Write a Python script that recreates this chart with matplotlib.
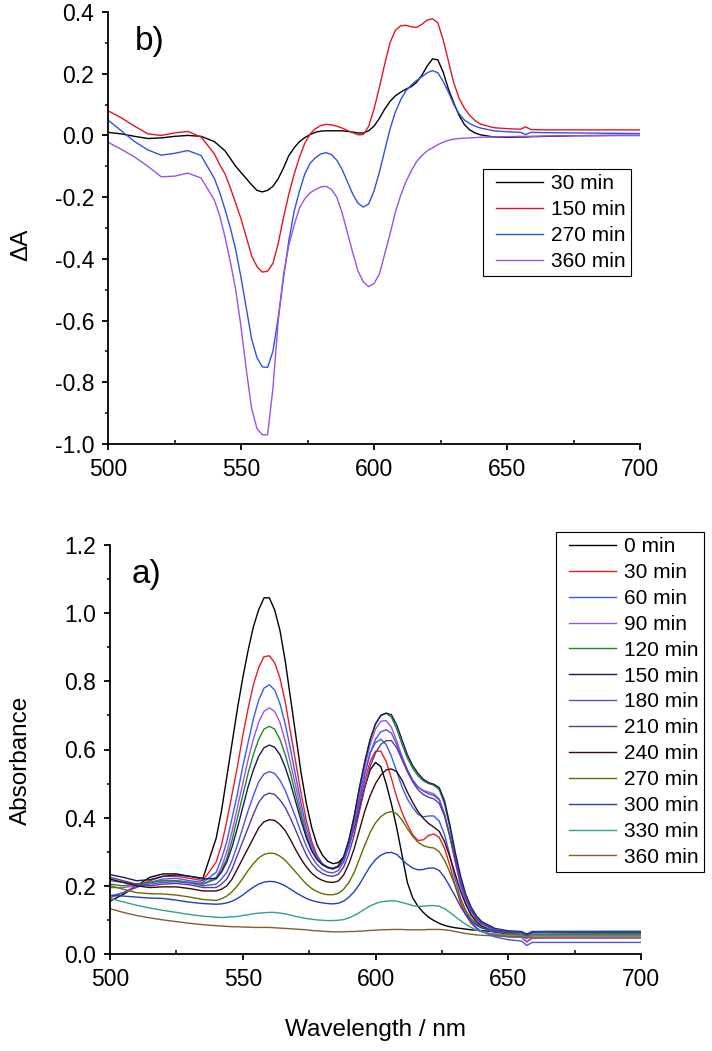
import numpy as np
import matplotlib
matplotlib.use("Agg")
import matplotlib.pyplot as plt
from matplotlib.lines import Line2D
from matplotlib.legend_handler import HandlerLine2D
from matplotlib.ticker import MultipleLocator, FormatStrFormatter

plt.rcParams['font.family'] = ['Liberation Sans', 'DejaVu Sans']
plt.rcParams['axes.unicode_minus'] = False

# wavelength grid (nm) the values below were read at
wavelength = ([500, 505, 510, 515, 520, 525, 530, 535]
              + list(range(540, 641, 2))
              + [645, 650, 655, 657, 659, 665, 675, 690, 700])

# panel b) difference spectra
dA_labels = ['30 min', '150 min', '270 min', '360 min']
dA_colors = ['#000000', '#e8141e', '#2f52e6', '#9a50ec']
dA_30 = [0.010, 0.005, -0.003, -0.010, -0.008, -0.003, 0.000, -0.003,
         -0.020, -0.035, -0.050, -0.075, -0.100, -0.120, -0.140, -0.160, -0.178, -0.183,
         -0.178, -0.165, -0.140, -0.105, -0.065, -0.040, -0.020, -0.007, 0.003, 0.010,
         0.014, 0.015, 0.015, 0.015, 0.015, 0.013, 0.011, 0.008, 0.008, 0.015,
         0.030, 0.055, 0.085, 0.110, 0.128, 0.140, 0.150, 0.158, 0.172, 0.195,
         0.225, 0.248, 0.245, 0.205, 0.150, 0.105, 0.065, 0.035, 0.018, 0.008, 0.002,
         -0.005, -0.006, -0.005, -0.005, -0.004, -0.003, -0.001, 0.000, 0.000]
dA_150 = [0.080, 0.057, 0.030, 0.005, 0.000, 0.008, 0.013, -0.005,
          -0.060, -0.095, -0.125, -0.170, -0.220, -0.270, -0.330, -0.390, -0.425, -0.443,
          -0.440, -0.415, -0.350, -0.265, -0.190, -0.125, -0.070, -0.025, 0.005, 0.022,
          0.032, 0.036, 0.034, 0.030, 0.024, 0.016, 0.009, 0.002, 0.003, 0.030,
          0.085, 0.155, 0.230, 0.300, 0.340, 0.355, 0.357, 0.352, 0.350, 0.360,
          0.374, 0.378, 0.365, 0.310, 0.240, 0.170, 0.120, 0.088, 0.065, 0.048, 0.037,
          0.025, 0.022, 0.020, 0.028, 0.019, 0.018, 0.018, 0.018, 0.018]
dA_270 = [0.050, 0.015, -0.020, -0.047, -0.064, -0.058, -0.049, -0.065,
          -0.140, -0.185, -0.240, -0.300, -0.370, -0.460, -0.560, -0.660, -0.720, -0.750,
          -0.752, -0.700, -0.590, -0.460, -0.340, -0.245, -0.180, -0.125, -0.090, -0.072,
          -0.060, -0.056, -0.062, -0.080, -0.110, -0.150, -0.190, -0.220, -0.232, -0.222,
          -0.180, -0.120, -0.050, 0.020, 0.075, 0.115, 0.145, 0.163, 0.178, 0.190,
          0.203, 0.210, 0.203, 0.175, 0.140, 0.100, 0.070, 0.050, 0.038, 0.030, 0.024,
          0.015, 0.012, 0.010, 0.003, 0.010, 0.009, 0.008, 0.007, 0.006]
dA_360 = [-0.022, -0.045, -0.070, -0.100, -0.134, -0.132, -0.122, -0.138,
          -0.210, -0.260, -0.330, -0.410, -0.500, -0.620, -0.760, -0.885, -0.950, -0.970,
          -0.970, -0.820, -0.600, -0.450, -0.355, -0.290, -0.235, -0.205, -0.186, -0.175,
          -0.167, -0.165, -0.175, -0.200, -0.250, -0.315, -0.380, -0.440, -0.475, -0.490,
          -0.480, -0.450, -0.385, -0.320, -0.250, -0.195, -0.150, -0.115, -0.085, -0.065,
          -0.050, -0.040, -0.030, -0.022, -0.016, -0.012, -0.010, -0.009, -0.008, -0.007, -0.006,
          -0.005, -0.004, -0.003, -0.003, -0.003, -0.002, -0.001, 0.000, 0.000]

# panel a) absorbance spectra
abs_labels = ['0 min', '30 min', '60 min', '90 min', '120 min', '150 min', '180 min',
              '210 min', '240 min', '270 min', '300 min', '330 min', '360 min']
abs_colors = ['#000000', '#ec1c24', '#3a5cf0', '#a050f0', '#1f8a1f', '#1a1a60', '#5050e8',
              '#5a3a9a', '#3a0a0a', '#6a6a00', '#2040c0', '#30a090', '#8a5a30']
a_0 = [0.155, 0.175, 0.200, 0.225, 0.235, 0.235, 0.228, 0.222,
       0.340, 0.420, 0.520, 0.620, 0.720, 0.810, 0.890, 0.960, 1.010, 1.045,
       1.045, 1.010, 0.950, 0.860, 0.750, 0.640, 0.530, 0.440, 0.370, 0.320,
       0.290, 0.272, 0.265, 0.268, 0.285, 0.320, 0.370, 0.430, 0.490, 0.540,
       0.562, 0.550, 0.500, 0.440, 0.370, 0.290, 0.210, 0.165, 0.140, 0.122,
       0.108, 0.098, 0.090, 0.084, 0.080, 0.077, 0.075, 0.073, 0.071, 0.070, 0.068,
       0.066, 0.065, 0.064, 0.058, 0.063, 0.063, 0.062, 0.062, 0.062]
a_30 = [0.165, 0.180, 0.200, 0.215, 0.228, 0.228, 0.222, 0.215,
        0.270, 0.320, 0.390, 0.470, 0.550, 0.640, 0.720, 0.790, 0.840, 0.872,
        0.875, 0.855, 0.810, 0.740, 0.650, 0.560, 0.470, 0.390, 0.330, 0.290,
        0.265, 0.253, 0.250, 0.255, 0.275, 0.315, 0.370, 0.440, 0.510, 0.565,
        0.595, 0.595, 0.565, 0.515, 0.460, 0.415, 0.380, 0.350, 0.333, 0.335,
        0.348, 0.352, 0.342, 0.310, 0.260, 0.200, 0.150, 0.115, 0.090, 0.075, 0.066,
        0.055, 0.050, 0.049, 0.035, 0.046, 0.047, 0.047, 0.047, 0.047]
a_60 = [0.170, 0.180, 0.195, 0.210, 0.220, 0.222, 0.215, 0.210,
        0.240, 0.280, 0.330, 0.400, 0.470, 0.550, 0.620, 0.690, 0.745, 0.780,
        0.790, 0.775, 0.735, 0.675, 0.600, 0.520, 0.440, 0.370, 0.320, 0.285,
        0.265, 0.255, 0.252, 0.258, 0.280, 0.325, 0.385, 0.460, 0.530, 0.590,
        0.620, 0.630, 0.615, 0.580, 0.535, 0.490, 0.455, 0.430, 0.410, 0.402,
        0.405, 0.405, 0.390, 0.350, 0.290, 0.220, 0.165, 0.125, 0.095, 0.078, 0.066,
        0.050, 0.042, 0.038, 0.025, 0.034, 0.034, 0.034, 0.034, 0.034]
a_90 = [0.195, 0.195, 0.200, 0.210, 0.215, 0.215, 0.210, 0.205,
        0.225, 0.255, 0.300, 0.360, 0.430, 0.500, 0.570, 0.630, 0.680, 0.712,
        0.722, 0.712, 0.680, 0.625, 0.560, 0.490, 0.420, 0.355, 0.310, 0.280,
        0.262, 0.253, 0.250, 0.257, 0.280, 0.330, 0.395, 0.475, 0.550, 0.615,
        0.660, 0.683, 0.685, 0.665, 0.625, 0.580, 0.540, 0.510, 0.490, 0.480,
        0.475, 0.470, 0.455, 0.410, 0.345, 0.270, 0.200, 0.150, 0.115, 0.093, 0.080,
        0.060, 0.052, 0.049, 0.037, 0.047, 0.048, 0.048, 0.048, 0.048]
a_120 = [0.205, 0.200, 0.205, 0.210, 0.215, 0.215, 0.210, 0.205,
         0.220, 0.245, 0.280, 0.335, 0.400, 0.465, 0.530, 0.585, 0.630, 0.660,
         0.668, 0.660, 0.630, 0.585, 0.530, 0.465, 0.405, 0.345, 0.305, 0.278,
         0.262, 0.254, 0.250, 0.258, 0.285, 0.335, 0.405, 0.490, 0.565, 0.630,
         0.675, 0.700, 0.706, 0.695, 0.660, 0.615, 0.575, 0.545, 0.523, 0.508,
         0.500, 0.495, 0.482, 0.440, 0.370, 0.290, 0.220, 0.165, 0.130, 0.105, 0.090,
         0.070, 0.062, 0.058, 0.048, 0.057, 0.058, 0.058, 0.058, 0.058]
a_150 = [0.233, 0.225, 0.215, 0.218, 0.228, 0.232, 0.228, 0.220,
         0.222, 0.240, 0.270, 0.315, 0.370, 0.430, 0.490, 0.540, 0.580, 0.605,
         0.613, 0.607, 0.585, 0.548, 0.500, 0.445, 0.390, 0.340, 0.302, 0.277,
         0.262, 0.254, 0.250, 0.258, 0.285, 0.335, 0.405, 0.490, 0.565, 0.630,
         0.675, 0.700, 0.707, 0.702, 0.672, 0.628, 0.585, 0.553, 0.530, 0.513,
         0.503, 0.498, 0.488, 0.450, 0.380, 0.300, 0.230, 0.175, 0.138, 0.112, 0.095,
         0.075, 0.068, 0.066, 0.058, 0.066, 0.066, 0.066, 0.066, 0.066]
a_180 = [0.215, 0.210, 0.205, 0.205, 0.210, 0.212, 0.208, 0.200,
         0.205, 0.220, 0.240, 0.275, 0.320, 0.370, 0.420, 0.465, 0.505, 0.528,
         0.535, 0.530, 0.510, 0.480, 0.440, 0.400, 0.355, 0.315, 0.285, 0.262,
         0.248, 0.240, 0.238, 0.245, 0.270, 0.315, 0.380, 0.455, 0.530, 0.590,
         0.630, 0.652, 0.658, 0.648, 0.615, 0.575, 0.540, 0.510, 0.490, 0.478,
         0.470, 0.465, 0.452, 0.410, 0.345, 0.275, 0.210, 0.160, 0.125, 0.102, 0.088,
         0.070, 0.064, 0.062, 0.053, 0.062, 0.064, 0.065, 0.066, 0.066]
a_210 = [0.225, 0.215, 0.205, 0.200, 0.205, 0.207, 0.203, 0.195,
         0.195, 0.205, 0.220, 0.250, 0.290, 0.330, 0.370, 0.410, 0.445, 0.465,
         0.472, 0.468, 0.452, 0.430, 0.398, 0.362, 0.325, 0.290, 0.265, 0.247,
         0.236, 0.230, 0.228, 0.234, 0.255, 0.295, 0.350, 0.420, 0.490, 0.550,
         0.590, 0.615, 0.626, 0.626, 0.605, 0.570, 0.535, 0.505, 0.482, 0.468,
         0.460, 0.455, 0.442, 0.405, 0.345, 0.280, 0.215, 0.165, 0.130, 0.105, 0.090,
         0.072, 0.066, 0.064, 0.055, 0.064, 0.065, 0.065, 0.065, 0.065]
a_240 = [0.220, 0.210, 0.200, 0.195, 0.197, 0.197, 0.192, 0.185,
         0.185, 0.190, 0.200, 0.220, 0.250, 0.280, 0.310, 0.340, 0.370, 0.388,
         0.394, 0.392, 0.380, 0.362, 0.335, 0.305, 0.278, 0.255, 0.237, 0.224,
         0.216, 0.211, 0.210, 0.214, 0.232, 0.265, 0.310, 0.365, 0.420, 0.465,
         0.500, 0.525, 0.540, 0.543, 0.535, 0.510, 0.475, 0.445, 0.418, 0.398,
         0.383, 0.372, 0.360, 0.330, 0.285, 0.235, 0.185, 0.145, 0.115, 0.095, 0.082,
         0.065, 0.058, 0.056, 0.047, 0.055, 0.055, 0.055, 0.055, 0.055]
a_270 = [0.200, 0.190, 0.180, 0.177, 0.176, 0.173, 0.167, 0.160,
         0.157, 0.162, 0.170, 0.183, 0.200, 0.222, 0.245, 0.265, 0.282, 0.292,
         0.296, 0.295, 0.287, 0.275, 0.258, 0.240, 0.222, 0.205, 0.192, 0.183,
         0.177, 0.174, 0.174, 0.178, 0.190, 0.210, 0.240, 0.280, 0.320, 0.357,
         0.385, 0.403, 0.414, 0.418, 0.412, 0.393, 0.368, 0.345, 0.328, 0.318,
         0.313, 0.311, 0.300, 0.275, 0.240, 0.200, 0.160, 0.128, 0.104, 0.088, 0.078,
         0.065, 0.060, 0.058, 0.050, 0.058, 0.058, 0.058, 0.058, 0.058]
a_300 = [0.172, 0.170, 0.167, 0.164, 0.163, 0.158, 0.152, 0.148,
         0.146, 0.147, 0.150, 0.155, 0.163, 0.173, 0.185, 0.196, 0.205, 0.211,
         0.213, 0.212, 0.207, 0.200, 0.190, 0.180, 0.171, 0.163, 0.157, 0.153,
         0.150, 0.148, 0.147, 0.149, 0.155, 0.167, 0.183, 0.205, 0.232, 0.257,
         0.277, 0.290, 0.297, 0.298, 0.292, 0.277, 0.263, 0.252, 0.247, 0.248,
         0.252, 0.252, 0.245, 0.225, 0.198, 0.170, 0.140, 0.115, 0.097, 0.085, 0.076,
         0.066, 0.064, 0.064, 0.056, 0.065, 0.066, 0.066, 0.066, 0.066]
a_330 = [0.163, 0.153, 0.143, 0.135, 0.128, 0.122, 0.116, 0.111,
         0.108, 0.107, 0.108, 0.109, 0.110, 0.113, 0.115, 0.118, 0.120, 0.121,
         0.122, 0.122, 0.120, 0.118, 0.114, 0.110, 0.107, 0.104, 0.102, 0.100,
         0.099, 0.098, 0.098, 0.099, 0.101, 0.106, 0.113, 0.122, 0.132, 0.141,
         0.148, 0.153, 0.155, 0.156, 0.155, 0.151, 0.147, 0.142, 0.140, 0.140,
         0.142, 0.142, 0.140, 0.133, 0.122, 0.110, 0.098, 0.087, 0.078, 0.070, 0.065,
         0.058, 0.056, 0.055, 0.048, 0.055, 0.055, 0.055, 0.055, 0.055]
a_360 = [0.133, 0.122, 0.113, 0.106, 0.100, 0.095, 0.090, 0.086,
         0.083, 0.082, 0.081, 0.080, 0.080, 0.079, 0.079, 0.078, 0.078, 0.078,
         0.078, 0.077, 0.076, 0.075, 0.074, 0.073, 0.072, 0.071, 0.069, 0.068,
         0.067, 0.066, 0.065, 0.065, 0.065, 0.066, 0.066, 0.067, 0.068, 0.069,
         0.070, 0.071, 0.071, 0.072, 0.072, 0.072, 0.071, 0.071, 0.071, 0.071,
         0.072, 0.072, 0.072, 0.071, 0.069, 0.066, 0.063, 0.060, 0.058, 0.056, 0.055,
         0.053, 0.052, 0.051, 0.046, 0.050, 0.050, 0.050, 0.050, 0.050]

dA_series = [dA_30, dA_150, dA_270, dA_360]
abs_series = [a_0, a_30, a_60, a_90, a_120, a_150, a_180, a_210, a_240, a_270, a_300, a_330, a_360]


def style_axes(ax):
    for s in ['top', 'right']:
        ax.spines[s].set_visible(False)
    for s in ['left', 'bottom']:
        ax.spines[s].set_linewidth(1.3)
    ax.set_xlim(500, 700)
    ax.xaxis.set_major_locator(MultipleLocator(50))
    ax.xaxis.set_minor_locator(MultipleLocator(25))
    ax.yaxis.set_major_locator(MultipleLocator(0.2))
    ax.yaxis.set_minor_locator(MultipleLocator(0.1))
    ax.yaxis.set_major_formatter(FormatStrFormatter('%.1f'))
    ax.tick_params(which='major', direction='out', length=4, width=1.3, labelsize=16.5, pad=6)
    ax.tick_params(axis='y', which='minor', direction='out', length=2.5, width=1.1)
    ax.tick_params(axis='x', which='minor', direction='in', length=3, width=1.1)


def add_legend(ax, x_px, y_px):
    # extra blank space in front of each legend line, as in the original
    leg = ax.legend(loc='upper left', bbox_to_anchor=(x_px / 712, 1 - y_px / 1051),
                    bbox_transform=fig.transFigure, borderaxespad=0, fontsize=15,
                    frameon=True, fancybox=False, edgecolor='black', framealpha=1,
                    handlelength=2.65, handletextpad=0.35, labelspacing=0.33, borderpad=0.25,
                    handler_map={Line2D: HandlerLine2D(xpad=0.35)})
    leg.get_frame().set_linewidth(0.8)


fig = plt.figure(figsize=(7.12, 10.51), dpi=100)

# --- panel b) ---
ax_b = fig.add_axes([108 / 712, 1 - 444 / 1051, 532 / 712, 432 / 1051])
for y, lab, c in zip(dA_series, dA_labels, dA_colors):
    ax_b.plot(wavelength, y, color=c, lw=1.0, label=lab)
style_axes(ax_b)
ax_b.set_ylim(-1.0, 0.4)
ax_b.set_ylabel('ΔA', fontsize=17.5)
ax_b.yaxis.set_label_coords(-0.143, 0.46)
ax_b.text(510, 0.277, 'b)', fontsize=24, va='baseline')
add_legend(ax_b, 483, 169)

# --- panel a) ---
ax_a = fig.add_axes([110 / 712, 1 - 954 / 1051, 531 / 712, 409 / 1051])
for y, lab, c in zip(abs_series, abs_labels, abs_colors):
    ax_a.plot(wavelength, y, color=c, lw=1.0, label=lab)
style_axes(ax_a)
ax_a.set_ylim(0.0, 1.2)
ax_a.set_ylabel('Absorbance', fontsize=17.5)
ax_a.yaxis.set_label_coords(-0.147, 0.474)
ax_a.set_xlabel('Wavelength / nm', fontsize=17.5, va='top')
ax_a.xaxis.set_label_coords(0.5, -0.158)
ax_a.text(508, 1.089, 'a)', fontsize=24, va='baseline')
add_legend(ax_a, 556, 532)

fig.savefig('out.png', dpi=100)
